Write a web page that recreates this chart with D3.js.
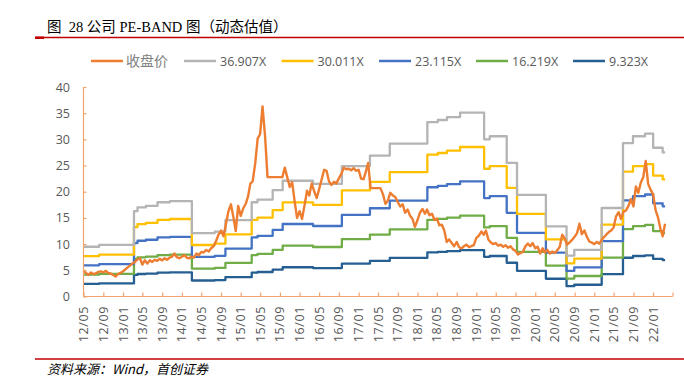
<!DOCTYPE html>
<html><head><meta charset="utf-8">
<script src="https://cdn.jsdelivr.net/npm/d3@7"></script>
<style>
body{margin:0;background:#fff;}
svg{display:block;}
</style></head><body>
<svg id="c" width="684" height="383"></svg>
<script>
// ---------------- data ----------------
const seriesNames = ["收盘价","36.907X","30.011X","23.115X","16.219X","9.323X"];
const bandMultiples = [36.907,30.011,23.115,16.219,9.323];
const seriesColors = ["#ED7D31","#B4B4B4","#FFC000","#4472C4","#70AD47","#255E91"];

// EPS used for the PE bands, with the dates at which it changes
const epsDates = ["2012-05-01","2012-08-06","2013-03-10","2013-04-01","2013-05-23","2013-08-03","2013-10-19",
  "2014-03-04","2014-07-24","2014-09-28","2015-03-10","2015-04-15","2015-07-18","2015-09-18","2016-03-24",
  "2016-09-19","2017-03-12","2017-07-13","2018-03-03","2018-05-07","2018-07-03","2018-09-22","2019-02-18",
  "2019-03-25","2019-07-08","2019-09-10","2020-03-07","2020-07-13","2020-08-30","2021-02-16","2021-06-28",
  "2021-08-29","2021-11-12","2022-01-01","2022-03-01"];
const epsValues = [0.2574,0.2669,0.4416,0.4606,0.4687,0.4877,0.4931,
  0.3278,0.3360,0.3956,0.4877,0.5013,0.5500,0.5988,0.5825,
  0.6747,0.7289,0.7912,0.9023,0.9131,0.9280,0.9510,0.8129,
  0.8291,0.6909,0.5256,0.3631,0.2113,0.2411,0.4579,0.7939,
  0.8291,0.8427,0.7695,0.7451];
const dataEnd = "2022-03-16";

// closing price, sampled twice a month (1st and 16th) from 2012-05-01
const closePrice = [
  5.0,4.5,4.1,4.6,4.3,4.4,4.7,4.8,4.6,4.9,
  4.5,4.4,4.1,3.8,4.3,4.5,4.8,5.2,5.6,6.0,
  6.3,6.6,7.1,7.3,6.1,6.9,6.3,6.9,6.6,7.0,
  6.8,7.2,6.9,7.3,7.0,7.4,7.6,8.2,7.5,7.3,
  7.6,7.9,7.4,7.3,7.6,7.4,8.2,7.9,8.5,8.4,
  8.9,8.6,9.2,9.6,10.6,11.8,12.6,11.5,13.8,16.2,
  17.6,15.2,12.5,17.3,15.4,16.8,17.7,19.2,21.5,22.0,
  25.5,30.2,31.0,36.3,30.5,22.8,22.8,22.8,22.8,22.8,
  22.8,22.8,24.6,22.8,20.9,21.8,18.2,15.0,16.3,14.8,
  17.5,20.2,19.3,21.6,20.0,18.8,20.5,22.3,24.2,24.0,
  22.0,21.3,21.9,21.6,22.6,23.4,24.6,24.3,24.4,24.1,
  24.5,24.0,24.2,22.5,22.4,24.0,25.5,20.7,20.7,20.7,
  20.7,20.7,19.5,17.7,18.3,19.8,19.3,19.0,18.0,17.2,
  17.6,16.0,16.6,15.4,14.8,13.3,14.6,16.0,16.7,15.8,
  16.6,15.5,15.8,14.6,14.9,13.6,13.7,12.6,10.4,10.9,
  10.2,9.6,10.4,9.4,9.2,9.6,9.9,9.4,9.6,9.8,
  11.2,11.6,12.4,11.8,12.6,10.9,10.3,10.0,10.2,9.7,
  9.9,9.5,9.8,9.3,9.6,9.0,8.7,8.0,8.3,8.5,
  9.6,10.1,9.6,10.2,9.2,9.5,8.2,9.2,8.4,8.9,
  8.2,8.6,8.3,8.8,9.5,11.8,11.1,9.9,10.3,10.8,
  11.4,12.1,13.9,11.9,12.6,11.4,10.5,10.3,10.0,10.4,
  10.1,10.8,11.3,11.8,12.3,12.6,13.2,15.3,16.1,14.8,
  16.2,16.4,17.3,18.6,17.2,21.0,19.8,21.7,22.8,25.9,
  21.5,20.4,19.5,16.5,15.0,12.8,11.5,13.9];

const yTicks = [0,5,10,15,20,25,30,35,40];
const xTickLabels = ["12/05","12/09","13/01","13/05","13/09","14/01","14/05","14/09","15/01","15/05",
  "15/09","16/01","16/05","16/09","17/01","17/05","17/09","18/01","18/05","18/09",
  "19/01","19/05","19/09","20/01","20/05","20/09","21/01","21/05","21/09","22/01"];
const axisStart = "2012-05-01", axisEnd = "2022-05-01";

// ---------------- drawing ----------------
const svg = d3.select("#c");
const parse = d3.timeParse("%Y-%m-%d");
const parseTick = d3.timeParse("%y/%m");

const x = d3.scaleTime().domain([parse(axisStart), parse(axisEnd)]).range([83.5, 672.5]);
const y = d3.scaleLinear().domain([0, 40]).range([296.5, 87]);

const axisColor = "#F2A46E";
const labelColor = "#595959";

// title
svg.append("text").attr("x", 47).attr("y", 32)
  .style("font-family", "'Liberation Serif','Noto Sans CJK SC',serif")
  .style("font-size", "14.5px").style("white-space", "pre").attr("fill", "#000")
  .text("图  28 公司 PE-BAND 图（动态估值）");
svg.append("line").attr("x1", 35).attr("x2", 684).attr("y1", 37.5).attr("y2", 37.5)
  .attr("stroke", "#C00000").attr("stroke-width", 1.3);
svg.append("rect").attr("x", 35).attr("y", 36.5).attr("width", 9).attr("height", 2.5).attr("fill", "#C00000");

// legend
const legendX = [91, 184, 281.5, 379, 476, 573];
const lg = svg.append("g").selectAll("g").data(seriesNames).join("g")
  .attr("transform", (d, i) => `translate(${legendX[i]},61)`);
lg.append("line").attr("x1", 0).attr("x2", 32).attr("y1", 0).attr("y2", 0)
  .attr("stroke", (d, i) => seriesColors[i]).attr("stroke-width", 2.5);
lg.append("text").attr("x", (d, i) => i === 0 ? 35 : 36).attr("y", 4.5)
  .style("font-family", "'Open Sans','Noto Sans CJK SC',sans-serif")
  .style("font-size", (d, i) => i === 0 ? "14px" : "12.5px")
  .attr("fill", (d, i) => i === 0 ? "#808080" : labelColor)
  .text(d => d);

// bands
const epsPts = epsDates.map((d, j) => ({date: parse(d), eps: epsValues[j]}));
epsPts.push({date: parse(dataEnd), eps: epsValues[epsValues.length - 1]});
const plot = svg.append("g");
const lineGen = d3.line().x(d => x(d.date)).y(d => y(d.v));
for (let k = bandMultiples.length - 1; k >= 0; k--) {
  const pts = epsPts.map(p => ({date: p.date, v: bandMultiples[k] * p.eps}));
  plot.append("path").datum(pts)
    .attr("fill", "none").attr("stroke", seriesColors[k + 1]).attr("stroke-width", 2.3)
    .attr("stroke-linejoin", "round")
    .attr("d", lineGen.curve(d3.curveStepAfter));
}
// close price
const pricePts = closePrice.map((v, i) => ({date: new Date(2012, 4 + Math.floor(i / 2), i % 2 ? 16 : 1), v}));
plot.append("path").datum(pricePts)
  .attr("fill", "none").attr("stroke", seriesColors[0]).attr("stroke-width", 2.4)
  .attr("stroke-linejoin", "round")
  .attr("d", d3.line().x(d => x(d.date)).y(d => y(d.v)).curve(d3.curveLinear));

// y axis
const yAxis = svg.append("g").attr("transform", "translate(83.5,0)")
  .call(d3.axisRight(y).tickValues(yTicks).tickSize(3).tickFormat(""));
yAxis.select(".domain").attr("stroke", axisColor).attr("stroke-width", 1.2).attr("d", `M0,${y(0)}V${y(40)}`);
yAxis.selectAll(".tick line").attr("stroke", axisColor).attr("stroke-width", 1.2);
svg.append("g").selectAll("text").data(yTicks).join("text")
  .attr("x", 70).attr("y", d => y(d) + 4.5).attr("text-anchor", "end")
  .style("font-family", "'Open Sans',sans-serif").style("font-size", "12.5px")
  .attr("fill", labelColor).text(d => d);

// x axis
const tickDates = d3.timeMonth.every(4).range(parse(axisStart), d3.timeDay.offset(parse(axisEnd), 1));
const xAxis = svg.append("g").attr("transform", `translate(0,${y(0)})`)
  .call(d3.axisTop(x).tickValues(tickDates).tickSize(4).tickFormat(""));
xAxis.select(".domain").attr("stroke", axisColor).attr("stroke-width", 1.2).attr("d", `M${x.range()[0]},0H${x.range()[1]}`);
xAxis.selectAll(".tick line").attr("stroke", axisColor).attr("stroke-width", 1.2);
svg.append("g").selectAll("text").data(xTickLabels).join("text")
  .attr("transform", d => `translate(${x(parseTick(d)) + 4.5},306) rotate(-90)`)
  .attr("text-anchor", "end")
  .style("font-family", "'Open Sans',sans-serif").style("font-size", "12.5px")
  .style("letter-spacing", "0.6px")
  .attr("fill", labelColor).text(d => d);

// footer
svg.append("line").attr("x1", 35).attr("x2", 684).attr("y1", 359).attr("y2", 359)
  .attr("stroke", "#C00000").attr("stroke-width", 1.3);
svg.append("text").attr("x", 47).attr("y", 374)
  .style("font-family", "'Noto Sans CJK SC',serif").style("font-style", "italic")
  .style("font-size", "13px").attr("fill", "#000")
  .text("资料来源：Wind，首创证券");
</script>
</body></html>
